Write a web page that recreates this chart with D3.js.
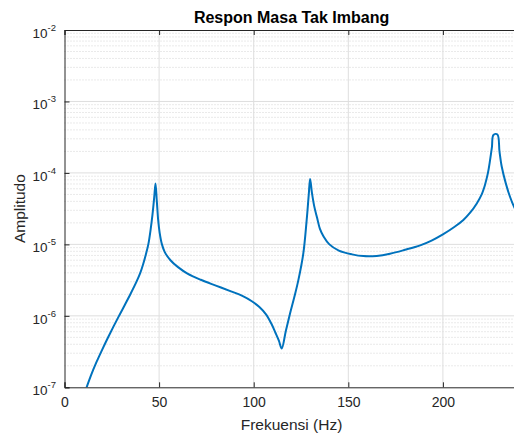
<!DOCTYPE html>
<html>
<head>
<meta charset="utf-8">
<script src="https://cdn.jsdelivr.net/npm/d3@7"></script>
<style>
body { margin: 0; background: #fff; }
text { font-family: "Liberation Sans", Arial, sans-serif; }
</style>
</head>
<body>
<svg id="chart" width="514" height="434"></svg>
<script>
// data
var freq = [10, 11.7, 14, 17, 20, 23, 26, 29, 32, 35, 38, 40, 41.6, 43, 44.3, 45.5, 46.5, 47.4, 48.1,
	48.8, 49.5, 50.3, 51.5, 53, 56, 60, 65, 72, 80, 88, 94, 99, 103, 106.5, 109.3, 111.5, 113.3, 114.8,
	117, 119.2, 121.5, 123.6, 126.2, 128, 129.1, 129.8, 130.8, 132, 133.5, 135, 137, 140, 145, 152, 158, 165, 172, 180,
	188, 194, 200, 206, 210.8, 214.5, 217.9, 220.5, 221.5, 222.3, 223.8, 224.9, 225.9, 226.7, 228.8, 229.9, 231.1, 233.2, 235.5, 237.6, 240];
var amp = [7.4e-8, 1.0e-7, 1.47e-7, 2.28e-7, 3.4e-7, 4.98e-7, 7.18e-7, 1.02e-6, 1.44e-6, 2.05e-6, 2.98e-6, 3.96e-6, 5.32e-6, 7.23e-6, 1.0e-5, 1.6e-5, 2.6e-5, 4.5e-5, 7.1e-5,
	4.0e-5, 2.2e-5, 1.45e-5, 1.0e-5, 7.8e-6, 6.0e-6, 4.8e-6, 3.9e-6, 3.2e-6, 2.65e-6, 2.2e-6, 1.9e-6, 1.6e-6, 1.33e-6, 1.05e-6, 7.8e-7, 5.8e-7, 4.5e-7, 3.5e-7,
	6.2e-7, 1.08e-6, 1.85e-6, 3.16e-6, 7.4e-6, 2.2e-5, 5e-5, 8.2e-5, 5.2e-5, 3.4e-5, 2.35e-5, 1.65e-5, 1.28e-5, 1.0e-5, 8.2e-6, 7.25e-6, 6.85e-6, 6.9e-6, 7.4e-6, 8.4e-6,
	9.7e-6, 1.13e-5, 1.38e-5, 1.75e-5, 2.2e-5, 2.8e-5, 3.74e-5, 5.0e-5, 5.9e-5, 6.9e-5, 1.0e-4, 1.5e-4, 2.3e-4, 3.4e-4, 3.45e-4, 2.0e-4, 1.22e-4, 7.2e-5, 4.6e-5, 3.35e-5, 2.6e-5];
var xTicks = [0, 50, 100, 150, 200];
var yExp = [-7, -6, -5, -4, -3, -2];

var data = freq.map(function(f, i) { return { f: f, a: amp[i] }; });

var svg = d3.select("#chart");
var pL = 64.5, pT = 30, pR = 518.6, pB = 387.3;
var axisCol = "#262626";

var x = d3.scaleLinear().domain([0, 240]).range([pL, pR]);
var y = d3.scaleLog().domain([1e-7, 1e-2]).range([pB, pT]);

// minor grid (dotted)
var minors = [];
yExp.slice(0, -1).forEach(function(e) {
	for (var k = 2; k <= 9; k++) minors.push(k * Math.pow(10, e));
});
svg.append("g")
	.selectAll("line")
	.data(minors)
	.enter()
	.append("line")
	.attr("x1", pL).attr("x2", pR)
	.attr("y1", function(d) { return y(d); })
	.attr("y2", function(d) { return y(d); })
	.attr("stroke", "#d4d4d4")
	.attr("stroke-width", 1)
	.attr("stroke-dasharray", "1,2");

// major grid
var grid = svg.append("g").attr("stroke", "#dedede").attr("stroke-width", 1);
grid.selectAll(".gx")
	.data(xTicks.slice(1))
	.enter()
	.append("line")
	.attr("x1", function(d) { return x(d); })
	.attr("x2", function(d) { return x(d); })
	.attr("y1", pT).attr("y2", pB);
grid.selectAll(".gy")
	.data(yExp.slice(1, -1))
	.enter()
	.append("line")
	.attr("x1", pL).attr("x2", pR)
	.attr("y1", function(d) { return y(Math.pow(10, d)); })
	.attr("y2", function(d) { return y(Math.pow(10, d)); });

// the curve
svg.append("clipPath").attr("id", "clip")
	.append("rect")
	.attr("x", pL).attr("y", pT)
	.attr("width", pR - pL).attr("height", pB - pT);

var line = d3.line()
	.x(function(d) { return x(d.f); })
	.y(function(d) { return y(d.a); })
	.curve(d3.curveCatmullRom.alpha(0.5));

svg.append("path")
	.datum(data)
	.attr("clip-path", "url(#clip)")
	.attr("d", line)
	.attr("fill", "none")
	.attr("stroke", "#0072BD")
	.attr("stroke-width", 2)
	.attr("stroke-linejoin", "round");

// axes box
var xAxis = d3.axisBottom(x).tickValues(xTicks).tickSize(-5).tickFormat(d3.format("d"));
var gx = svg.append("g").attr("transform", "translate(0," + pB + ")").call(xAxis);
gx.select(".domain").attr("stroke", axisCol);
gx.selectAll(".tick line").attr("stroke", axisCol);
gx.selectAll(".tick text")
	.attr("fill", axisCol)
	.attr("font-size", 14)
	.attr("y", 10)
	.attr("dy", "0.71em");

var gxTop = svg.append("g").attr("transform", "translate(0," + pT + ")")
	.call(d3.axisTop(x).tickValues(xTicks).tickSize(-5).tickFormat(""));
gxTop.select(".domain").attr("stroke", axisCol);
gxTop.selectAll(".tick line").attr("stroke", axisCol);

var gy = svg.append("g").attr("transform", "translate(" + pL + ",0)")
	.call(d3.axisLeft(y).tickValues(yExp.map(function(e) { return Math.pow(10, e); })).tickSize(-5).tickFormat(""));
gy.select(".domain").attr("stroke", axisCol);
gy.selectAll(".tick line").attr("stroke", axisCol);

// y tick labels 10^n
var labs = svg.append("g")
	.selectAll("text")
	.data(yExp)
	.enter()
	.append("text")
	.attr("x", 56)
	.attr("y", function(d) { return y(Math.pow(10, d)) + 8; })
	.attr("text-anchor", "end")
	.attr("fill", axisCol)
	.attr("font-size", 13.5);
labs.append("tspan").text("10");
labs.append("tspan")
	.attr("dy", -7)
	.attr("font-size", 9.5)
	.text(function(d) { return String(d); });

// title and labels
svg.append("text")
	.attr("x", (pL + pR) / 2)
	.attr("y", 23)
	.attr("text-anchor", "middle")
	.attr("font-size", 16)
	.attr("font-weight", "bold")
	.attr("fill", "#000")
	.text("Respon Masa Tak Imbang");

svg.append("text")
	.attr("x", (pL + pR) / 2)
	.attr("y", 430)
	.attr("text-anchor", "middle")
	.attr("font-size", 15.5)
	.attr("fill", axisCol)
	.text("Frekuensi (Hz)");

svg.append("text")
	.attr("transform", "translate(25," + ((pT + pB) / 2) + ") rotate(-90)")
	.attr("text-anchor", "middle")
	.attr("font-size", 15.5)
	.attr("fill", axisCol)
	.text("Amplitudo");
</script>
</body>
</html>
